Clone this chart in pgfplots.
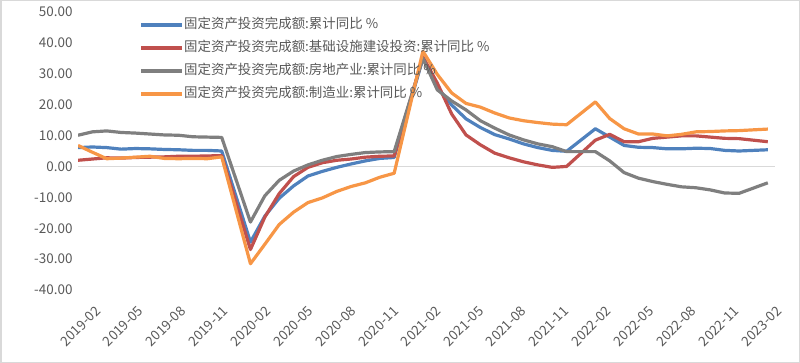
\documentclass[border=0pt]{standalone}
\usepackage{fontspec}
\setmainfont{Noto Sans CJK SC}
\usepackage{pgfplots}
\usepackage{pgfplotstable}
\pgfplotsset{compat=1.18}
\definecolor{cblue}{HTML}{4F81BD}
\definecolor{cred}{HTML}{C0504D}
\definecolor{cgray}{HTML}{7F7F7F}
\definecolor{corange}{HTML}{F79646}
\definecolor{ctext}{HTML}{595959}
\definecolor{cgrid}{HTML}{D9D9D9}

% x = months since 2019-02 (January not published)
\pgfplotstableread{
x blue red gray orange
0 6.1 2.0 10.1 6.8
1 6.3 2.4 11.2 4.6
2 6.1 2.8 11.5 2.5
3 5.6 2.7 11.0 2.7
4 5.8 2.9 10.8 3.0
5 5.7 3.0 10.5 3.3
6 5.5 3.1 10.2 2.6
7 5.4 3.3 10.1 2.5
8 5.2 3.3 9.6 2.6
9 5.2 3.4 9.5 2.5
10 5.0 3.5 9.4 3.1
12 -24.5 -26.9 -18.0 -31.5
13 -16.1 -16.4 -9.5 -25.2
14 -10.3 -8.8 -4.5 -18.8
15 -6.3 -3.3 -1.5 -14.8
16 -3.1 -0.3 0.5 -11.7
17 -1.6 1.2 2.0 -10.2
18 -0.3 2.0 3.2 -8.1
19 0.8 2.4 3.9 -6.5
20 1.8 3.0 4.5 -5.3
21 2.6 3.3 4.7 -3.5
22 2.9 3.4 4.8 -2.2
24 35.0 35.5 35.0 37.3
25 25.6 27.0 24.8 29.8
26 19.9 17.0 21.2 23.8
27 15.4 10.2 18.3 20.4
28 12.6 7.0 14.8 19.2
29 10.3 4.3 12.4 17.3
30 8.9 2.8 10.2 15.7
31 7.3 1.5 8.6 14.8
32 6.1 0.5 7.3 14.2
33 5.2 -0.3 6.4 13.7
34 4.9 0.0 4.8 13.5
36 12.2 8.5 4.8 20.9
37 9.5 10.4 1.8 15.5
38 6.8 8.0 -2.0 12.2
39 6.2 8.0 -3.8 10.5
40 6.1 9.1 -4.9 10.5
41 5.7 9.5 -5.8 9.9
42 5.7 9.9 -6.6 10.4
43 5.9 9.9 -6.9 11.2
44 5.8 9.5 -7.6 11.3
45 5.2 9.1 -8.6 11.5
46 5.0 9.0 -8.7 11.6
48 5.4 8.0 -5.3 12.1
}\data

\begin{document}
\begin{tikzpicture}
\useasboundingbox (0,0) rectangle (800bp,363bp);
\draw[cgrid, line width=1.5bp] (0.75bp,0.75bp) rectangle (799.25bp,362.25bp);
\begin{axis}[
  at={(78bp,73bp)}, anchor=south west,
  width=697bp, height=278bp, scale only axis,
  xmin=0, xmax=48.5, ymin=-40, ymax=50,
  axis line style={draw=none},
  tick style={draw=none},
  ytick={-40,-30,...,50},
  xtick={0.63,3.59,6.55,9.51,12.47,15.43,18.39,21.36,24.32,27.28,30.24,33.20,36.16,39.12,42.08,45.05,48.01},
  xticklabels={2019-02,2019-05,2019-08,2019-11,2020-02,2020-05,2020-08,2020-11,2021-02,2021-05,2021-08,2021-11,2022-02,2022-05,2022-08,2022-11,2023-02},
  yticklabel style={font=\fontsize{13.5}{16}\selectfont, color=ctext, xshift=-2bp,
    /pgf/number format/.cd, fixed, fixed zerofill, precision=2, assume math mode=true},
  xticklabel style={font=\fontsize{13.5}{16}\selectfont, color=ctext, rotate=45, anchor=east, xshift=-2bp, yshift=-21bp},
  extra y ticks={0},
  extra y tick labels={},
  extra y tick style={grid=major, major grid style={cgrid, line width=1.3bp}},
  legend style={at={(axis description cs:0.0875,0.976)}, anchor=north west, draw=none, fill=none,
    inner sep=0pt, font=\fontsize{13.5}{16}\selectfont, text=ctext,
    nodes={inner sep=0pt, text height=10bp, text depth=3bp},
    row sep=10bp, cells={anchor=west}},
  legend image code/.code={\draw[#1, line width=4bp] (0bp,0bp) -- (41bp,0bp);},
  /tikz/every even column/.append style={column sep=4bp},
  every axis plot/.append style={line width=3.2bp, line join=round, no marks},
]
\addplot[cblue] table[x=x, y=blue]{\data};
\addlegendentry{固定资产投资完成额:累计同比 \%}
\addplot[cred] table[x=x, y=red]{\data};
\addlegendentry{固定资产投资完成额:基础设施建设投资:累计同比 \%}
\addplot[cgray] table[x=x, y=gray]{\data};
\addlegendentry{固定资产投资完成额:房地产业:累计同比 \%}
\addplot[corange] table[x=x, y=orange]{\data};
\addlegendentry{固定资产投资完成额:制造业:累计同比 \%}
\end{axis}
\end{tikzpicture}
\end{document}
